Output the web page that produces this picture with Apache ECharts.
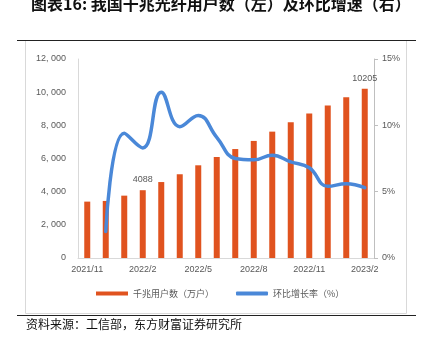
<!DOCTYPE html>
<html>
<head>
<meta charset="utf-8">
<script src="https://cdn.jsdelivr.net/npm/echarts@6/dist/echarts.min.js"></script>
<style>
  html, body { margin: 0; padding: 0; background: #fff; }
  #chart { width: 423px; height: 339px; }
</style>
</head>
<body>
<div id="chart"></div>
<script>
// Monthly gigabit fibre users (10k households) and month-on-month growth
const months = ['2021/11','2021/12','2022/1','2022/2','2022/3','2022/4','2022/5','2022/6',
                '2022/7','2022/8','2022/9','2022/10','2022/11','2022/12','2023/1','2023/2'];
const users = [3400, 3440, 3760, 4088, 4580, 5050, 5590, 6090,
               6570, 7060, 7620, 8180, 8720, 9190, 9690, 10205];
const momGrowth = [null, 2.0, 9.4, 8.3, 12.5, 9.9, 10.75, 9.1,
                   7.5, 7.4, 7.75, 7.25, 6.8, 5.4, 5.6, 5.3];
const labelledPoints = ['2022/2', '2023/2'];

const barColor = '#E0531F';
const lineColor = '#4A88D8';
const tickColor = '#595959';
const latin = 'Liberation Sans, Arial, sans-serif';
const cjk = '"Noto Sans CJK SC", sans-serif';

const chart = echarts.init(document.getElementById('chart'), null, { renderer: 'canvas' });

chart.setOption({
  animation: false,
  title: {
    text: '图表16: 我国千兆光纤用户数（左）及环比增速（右）',
    left: 26, top: -9,
    textStyle: { fontFamily: cjk, fontSize: 16, fontWeight: 'bold', color: '#111' }
  },
  graphic: [
    { type: 'rect', shape: { x: 25.5, y: 40.5, width: 381, height: 273 },
      style: { fill: 'none', stroke: '#d9d9d9', lineWidth: 1 }, silent: true },
    { type: 'line', shape: { x1: 17, y1: 40.5, x2: 416, y2: 40.5 },
      style: { stroke: '#222', lineWidth: 1.2 }, silent: true },
    { type: 'line', shape: { x1: 17, y1: 315.5, x2: 416, y2: 315.5 },
      style: { stroke: '#222', lineWidth: 1.2 }, silent: true },
    { type: 'text', left: 26, top: 318,
      style: { text: '资料来源：工信部，东方财富证券研究所', fontFamily: cjk, fontSize: 12, fill: '#111' } }
  ],
  legend: {
    bottom: 36, left: 91,
    itemGap: 22, itemWidth: 32, itemHeight: 4,
    textStyle: { fontFamily: cjk, fontSize: 9, color: tickColor },
    data: [
      { name: '千兆用户数（万户）', icon: 'rect' },
      { name: '环比增长率（%）', icon: 'roundRect' }
    ]
  },
  grid: { left: 78, right: 49, top: 59, bottom: 81 },
  xAxis: {
    type: 'category',
    data: months,
    boundaryGap: true,
    axisLine: { lineStyle: { color: '#d9d9d9', width: 1 } },
    axisTick: { show: false },
    axisLabel: { interval: 2, color: tickColor, fontFamily: latin, fontSize: 9, margin: 7 }
  },
  yAxis: [
    {
      type: 'value', min: 0, max: 12000, interval: 2000,
      axisLine: { show: true, lineStyle: { color: '#d9d9d9' } },
      axisTick: { show: false },
      splitLine: { show: false },
      axisLabel: {
        color: tickColor, fontFamily: latin, fontSize: 9, margin: 12,
        formatter: v => v === 0 ? '0' : (v / 1000) + ', 000'
      }
    },
    {
      type: 'value', min: 0, max: 15, interval: 5, position: 'right',
      axisLine: { show: true, lineStyle: { color: '#bfbfbf' } },
      axisTick: { show: true, inside: false, length: 4, lineStyle: { color: '#bfbfbf' } },
      splitLine: { show: false },
      axisLabel: { color: tickColor, fontFamily: latin, fontSize: 9, margin: 8, formatter: '{value}%' }
    }
  ],
  series: [
    {
      name: '千兆用户数（万户）',
      type: 'bar',
      data: users,
      barWidth: 6,
      itemStyle: { color: barColor },
      label: {
        show: true, position: 'top', distance: 6,
        color: tickColor, fontFamily: latin, fontSize: 9,
        formatter: p => labelledPoints.includes(p.name) ? String(p.value) : ''
      },
      z: 2
    },
    {
      name: '环比增长率（%）',
      type: 'line',
      yAxisIndex: 1,
      data: momGrowth,
      smooth: 0.45,
      showSymbol: false,
      symbol: 'none',
      lineStyle: { color: lineColor, width: 3.5, cap: 'round' },
      itemStyle: { color: lineColor },
      z: 3
    }
  ]
});
</script>
</body>
</html>
